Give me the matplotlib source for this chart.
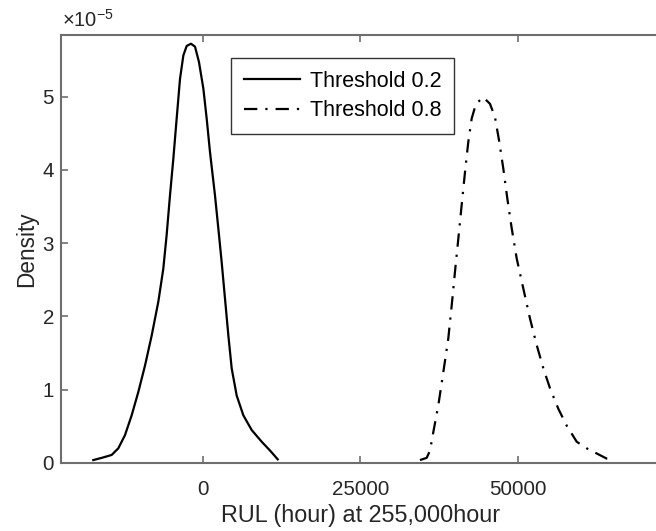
import numpy as np
import matplotlib
matplotlib.use("Agg")
import matplotlib.pyplot as plt

# curves, density in units of 1e-5
x_t02 = [-17350, -16020, -14440, -13390, -12330, -11270, -10210, -9150, -8090, -7040,
         -6250, -5720, -5190, -4660, -4130, -3600, -3070, -2540, -1860, -1220,
         -590, 100, 630, 1160, 1950, 2480, 3010, 3540, 4070, 4600,
         5390, 6450, 7770, 9360, 10680, 11900]
y_t02 = [0.04, 0.07, 0.11, 0.20, 0.38, 0.65, 0.97, 1.33, 1.74, 2.20,
         2.65, 3.11, 3.65, 4.15, 4.70, 5.24, 5.56, 5.69, 5.72, 5.68,
         5.47, 5.11, 4.70, 4.24, 3.65, 3.20, 2.74, 2.24, 1.74, 1.29,
         0.92, 0.65, 0.45, 0.29, 0.17, 0.05]

x_t08 = [34470, 35530, 36060, 36580, 37380, 38170, 38960, 39500, 40020, 40550,
         41080, 41610, 42130, 42670, 43350, 44510, 45570, 46360, 47050, 47680,
         48320, 49020, 49810, 50860, 51920, 52980, 54040, 55090, 56410, 57740,
         59330, 60920, 62500, 64090, 65410]
y_t08 = [0.04, 0.07, 0.17, 0.42, 0.79, 1.24, 1.70, 2.15, 2.61, 3.06,
         3.52, 3.97, 4.38, 4.70, 4.90, 4.99, 4.90, 4.72, 4.38, 4.02,
         3.61, 3.20, 2.79, 2.38, 1.97, 1.61, 1.29, 1.02, 0.74, 0.51,
         0.29, 0.20, 0.13, 0.06, 0.04]

xticks = [0, 25000, 50000]
yticks = [0, 1, 2, 3, 4, 5]
scale = 1e-5

plt.rcParams['font.family'] = ['Liberation Sans', 'DejaVu Sans']
plt.rcParams['mathtext.fontset'] = 'custom'
plt.rcParams['mathtext.rm'] = 'Liberation Sans'
axis_col = '#6e6e6e'
text_col = '#262626'

fig = plt.figure(figsize=(6.56, 5.31), dpi=100)
W, H = 656, 531
# axes runs a little past the right edge of the picture
left, right, top, bottom = 61, 661, 35, 463
ax = fig.add_axes([left / W, (H - bottom) / H, (right - left) / W, (bottom - top) / H])

ax.plot(x_t02, np.array(y_t02) * scale, color='black', lw=1.6, label='Threshold 0.2')
ax.plot(x_t08, np.array(y_t08) * scale, color='black', lw=1.6,
        linestyle=(0, (6, 3.6, 1, 3.6)), label='Threshold 0.8')

# 0 sits at px 202.7, 25000 per 157.6 px
px_per_unit = 157.6 / 25000
ax.set_xlim((left - 202.7) / px_per_unit, (right - 202.7) / px_per_unit)
ax.set_ylim(0, (bottom - top) / 73.3 * scale)

ax.set_xticks(xticks)
ax.set_xticklabels([str(v) for v in xticks])
ax.set_yticks([v * scale for v in yticks])
ax.set_yticklabels([str(v) for v in yticks])

for s in ax.spines.values():
    s.set_color(axis_col)
    s.set_linewidth(1.5)
ax.spines['right'].set_visible(False)
ax.tick_params(direction='in', length=5, width=1.2, color=axis_col,
               labelcolor=text_col, labelsize=14.8, top=True)
ax.tick_params(axis='x', pad=12)
ax.tick_params(axis='y', pad=5)

ax.set_xlabel('RUL (hour) at 255,000hour', fontsize=16.8, color=text_col, labelpad=4)
ax.set_ylabel('Density', fontsize=16.3, color=text_col, labelpad=3)
fig.text(62 / W, (H - 20) / H, r'$\times10^{-5}$', fontsize=14.5, color=text_col,
         va='center', ha='left')

leg = ax.legend(loc='upper left', bbox_to_anchor=((231 - left) / (right - left), (bottom - 58) / (bottom - top)),
                fontsize=15.5, frameon=True, fancybox=False, edgecolor='black',
                handlelength=2.6, borderpad=0.6, labelspacing=0.38, handletextpad=0.45,
                borderaxespad=0)
leg.get_frame().set_linewidth(1.0)

fig.savefig('out.png', dpi=100)
